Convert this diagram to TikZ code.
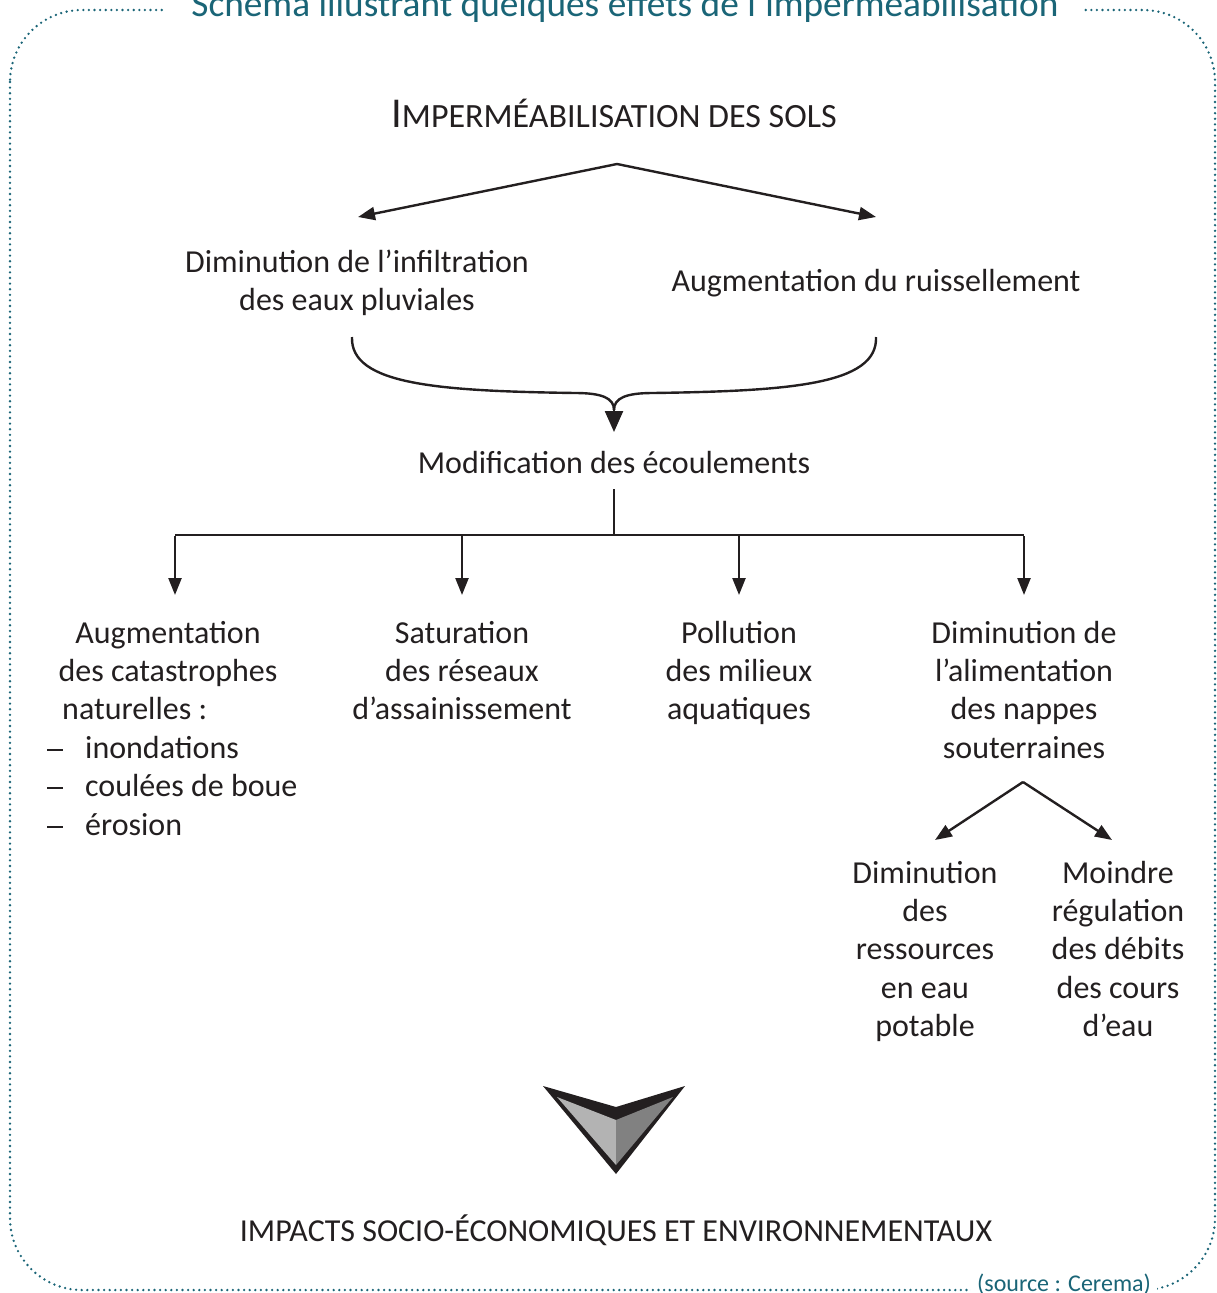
\documentclass[tikz,border=0pt]{standalone}
\usepackage{fontspec}
\setmainfont{Carlito}
\usetikzlibrary{arrows.meta}
\definecolor{teal1}{HTML}{1A6577}
\definecolor{ink}{HTML}{231F20}
\definecolor{lgray}{HTML}{B3B3B3}
\definecolor{dgray}{HTML}{818181}
\newcommand{\lidash}{\makebox[38pt][l]{\rule[7.5pt]{16pt}{2pt}}}
\begin{document}
\begin{tikzpicture}[x=1pt,y=-1pt,
  txt/.style={font=\fontsize{32}{38.3}\selectfont, text=ink, inner sep=0pt, align=center, anchor=base},
  ltxt/.style={font=\fontsize{32}{38.3}\selectfont, text=ink, inner sep=0pt, align=left, anchor=base west},
  arr/.style={draw=ink, line width=2.4pt, -{Triangle[length=17pt,width=13pt]}},
  ln/.style={draw=ink, line width=2.4pt},
  frame/.style={draw=teal1, line width=2.6pt, line cap=round, dash pattern=on 0pt off 5.6pt, rounded corners=72pt},
  lab/.style={fill=white, inner ysep=0pt, text=teal1, anchor=base}]
\useasboundingbox (0,0) rectangle (1217,1293);
% frame
\draw[frame] (10,10) rectangle (1215,1290);
\node[lab, inner xsep=25pt, font=\fontsize{37.3}{40}\selectfont] (title) at (625,16) {Schéma illustrant quelques effets de l’imperméabilisation};
\node[lab, inner xsep=6pt, font=\fontsize{24}{28}\selectfont] (src) at (1064,1291) {(source : Cerema)};

% heading
\node[txt] (imp) at (614,127) {{\fontsize{42.5}{40}\selectfont I}{\fontsize{34}{32}\selectfont MPERMÉABILISATION DES SOLS}};
\coordinate (apex) at (617,164);
\coordinate (tipL) at (358,217);
\coordinate (tipR) at (876,217);
\draw[arr] (apex) -- (tipL);
\draw[arr] (apex) -- (tipR);

\node[txt] (dim) at (357,310.5) {Diminution de l’infiltration\\des eaux pluviales};
\node[txt] (aug) at (876,291) {Augmentation du ruissellement};

% brace
\coordinate (bL) at (352,337);
\coordinate (bR) at (876,337);
\coordinate (bM) at (614,410);
\coordinate (bT) at (614,432);
\draw[ln] (bL) .. controls (350,385) and (440,391) .. (575,393) .. controls (602,393) and (614,398) .. (bM);
\draw[ln] (bR) .. controls (878,385) and (788,391) .. (653,393) .. controls (626,393) and (614,398) .. (bM);
\draw[arr, -{Triangle[length=21pt,width=18pt]}] (614,406) -- (bT);

\node[txt] (mod) at (614,473) {Modification des écoulements};

% distribution
\coordinate (m0) at (614,489);
\coordinate (m1) at (614,535);
\coordinate (h1) at (175,535);
\coordinate (h2) at (462,535);
\coordinate (h3) at (739,535);
\coordinate (h4) at (1024,535);
\draw[ln] (m0) -- (m1);
\draw[ln] (h1) -- (h4);
\draw[arr] ([yshift=-1.2pt]h1) -- (175,595);
\draw[arr] (h2) -- (462,595);
\draw[arr] (h3) -- (739,595);
\draw[arr] ([yshift=-1.2pt]h4) -- (1024,595);

% column 1
\node[txt] (c1) at (168,681.5) {Augmentation\\des catastrophes};
\node[ltxt] (c1b) at (62,719.8) {naturelles :};
\node[ltxt] (c1l) at (47,835) {\lidash inondations\\\lidash coulées de boue\\\lidash érosion};

% columns 2-4
\node[txt] (c2) at (462,719.8) {Saturation\\des réseaux\\d’assainissement};
\node[txt] (c3) at (739,719.8) {Pollution\\des milieux\\aquatiques};
\node[txt] (c4) at (1024,758.1) {Diminution de\\l’alimentation\\des nappes\\souterraines};

% sub arrows
\coordinate (sa) at (1023,782);
\draw[arr] (sa) -- (935,840);
\draw[arr] (sa) -- (1112,840);

\node[txt] (s1) at (925,1036.4) {Diminution\\des\\ressources\\en eau\\potable};
\node[txt] (s2) at (1118,1036.4) {Moindre\\régulation\\des débits\\des cours\\d’eau};

% big chevron
\fill[ink] (543,1086) -- (616,1107) -- (685,1086) -- (616,1174) -- cycle;
\fill[lgray] (557,1097) -- (616,1120) -- (616,1165) -- cycle;
\fill[dgray] (616,1120) -- (673,1097) -- (616,1165) -- cycle;

\node[txt] (impacts) at (616,1241) {IMPACTS SOCIO-ÉCONOMIQUES ET ENVIRONNEMENTAUX};
\end{tikzpicture}
\end{document}
